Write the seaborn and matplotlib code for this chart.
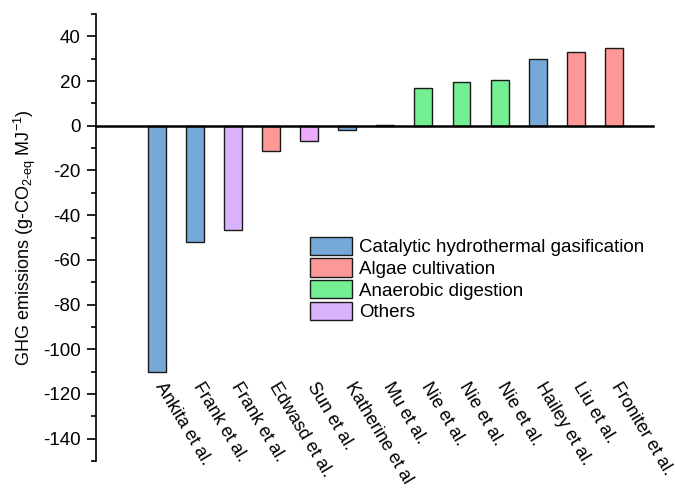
import matplotlib
matplotlib.use("Agg")
import matplotlib.pyplot as plt
import seaborn as sns
import pandas as pd
from matplotlib.patches import Patch
from matplotlib.ticker import MultipleLocator

studies = ["Ankita et al.", "Frank et al.", "Frank et al.", "Edwasd et al.", "Sun et al.",
           "Katherine et al", "Mu et al.", "Nie et al.", "Nie et al.", "Nie et al.",
           "Hailey et al.", "Liu et al.", "Froniter et al."]
values = [-110.0, -52.0, -46.5, -11.5, -6.9, -2.1, 0.3, 17.0, 19.5, 20.4, 30.0, 33.0, 35.0]
groups = ["Catalytic hydrothermal gasification", "Catalytic hydrothermal gasification", "Others",
          "Algae cultivation", "Others", "Catalytic hydrothermal gasification",
          "Catalytic hydrothermal gasification", "Anaerobic digestion", "Anaerobic digestion",
          "Anaerobic digestion", "Catalytic hydrothermal gasification", "Algae cultivation",
          "Algae cultivation"]
legend_order = ["Catalytic hydrothermal gasification", "Algae cultivation",
                "Anaerobic digestion", "Others"]
group_colors = {"Catalytic hydrothermal gasification": "#76a9d8",
                "Algae cultivation": "#fd9897",
                "Anaerobic digestion": "#74ee93",
                "Others": "#d8b2fc"}
sun_color = "#ebaafc"

plt.rcParams['font.family'] = ['Liberation Sans', 'DejaVu Sans']
plt.rcParams['axes.unicode_minus'] = False
plt.rcParams['mathtext.fontset'] = 'custom'
plt.rcParams['mathtext.rm'] = 'Liberation Sans'
plt.rcParams['mathtext.it'] = 'Liberation Sans'
plt.rcParams['mathtext.default'] = 'regular'

ids = [f"b{i}" for i in range(len(studies))]
df = pd.DataFrame({"id": ids, "value": values, "group": groups, "study": studies})
palette = {i: group_colors[g] for i, g in zip(ids, groups)}
palette[ids[studies.index("Sun et al.")]] = sun_color

fig = plt.figure(figsize=(6.75, 4.93), dpi=100)
ax = fig.add_axes([96/675, 1-461/493, (653-96)/675, (461-14)/493])

sns.barplot(data=df, x="id", y="value", hue="id", palette=palette, legend=False,
            width=0.47, edgecolor="#1a1a1a", linewidth=1.0, ax=ax, saturation=1)

ax.set_xlim(-1.6, 13.03)
ax.set_ylim(-150, 50)
ax.set_xlabel("")
ax.set_ylabel("GHG emissions (g-CO$_{2\\text{-eq}}$ MJ$^{-1}$)", fontsize=13)
ax.yaxis.set_label_coords(-0.104, 0.5)
ax.yaxis.set_major_locator(MultipleLocator(20))
ax.yaxis.set_minor_locator(MultipleLocator(10))
ax.tick_params(axis='y', which='major', length=6.5, width=1.2, labelsize=13.5, direction='out', pad=4.5)
ax.tick_params(axis='y', which='minor', length=3.5, width=1.2, direction='out')
ax.tick_params(axis='x', which='both', length=0, labelbottom=False)

for s in ["top", "right"]:
    ax.spines[s].set_visible(False)
ax.spines["bottom"].set_position(("data", 0))
ax.spines["bottom"].set_linewidth(1.8)
ax.spines["left"].set_linewidth(1.2)
ax.spines["left"].set_bounds(-150, 50)

for i, s in enumerate(studies):
    ax.text(i + 0.04, -115.2, s, rotation=-59, rotation_mode="anchor",
            ha="left", va="center", fontsize=12.9)

handles = [Patch(facecolor=group_colors[g], edgecolor="#1a1a1a", linewidth=1.0) for g in legend_order]
ax.legend(handles, legend_order, loc="upper left", bbox_to_anchor=(0.385, 0.502),
          frameon=False, fontsize=13.5, handlelength=2.24, handleheight=1.12,
          labelspacing=0.12, handletextpad=0.35, borderpad=0, borderaxespad=0)

fig.savefig("out.png", dpi=100)
